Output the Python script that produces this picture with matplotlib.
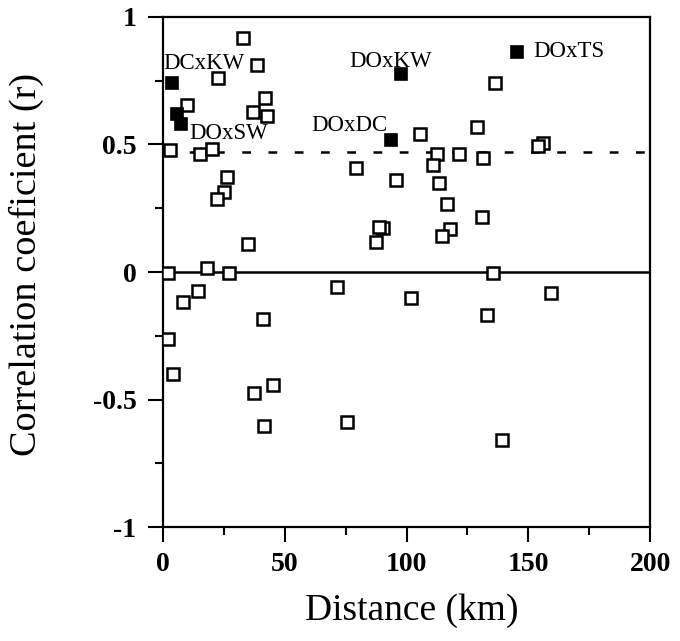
import matplotlib
matplotlib.use("Agg")
import matplotlib.pyplot as plt
import numpy as np

# open squares: pairwise distance (km) vs correlation coefficient
dist_open = [33.0, 38.7, 22.7, 9.7, 41.9, 37.1, 42.8, 2.9, 15.2, 20.0,
             26.2, 25.1, 22.0, 35.0, 79.3, 95.7, 90.5, 88.5, 87.5,
             2.2, 18.2, 27.2, 14.5, 8.1, 41.2, 2.2, 4.0, 45.3, 37.4,
             41.5, 75.7, 71.3,
             136.3, 128.8, 105.5, 156.2, 154.0, 112.4, 121.7, 131.5,
             111.0, 113.5, 116.5, 130.9, 117.9, 114.4, 135.3,
             101.7, 159.2, 132.9, 139.1]
r_open = [0.916, 0.812, 0.76, 0.655, 0.684, 0.629, 0.612, 0.478, 0.463, 0.481,
          0.374, 0.315, 0.285, 0.11, 0.407, 0.361, 0.171, 0.175, 0.119,
          -0.005, 0.014, -0.005, -0.075, -0.119, -0.184, -0.264, -0.401, -0.443, -0.473,
          -0.604, -0.587, -0.057,
          0.74, 0.567, 0.54, 0.507, 0.494, 0.463, 0.463, 0.446,
          0.42, 0.35, 0.267, 0.217, 0.167, 0.141, -0.005,
          -0.1, -0.084, -0.169, -0.659]

# filled squares: highlighted pairs
dist_filled = [3.6, 5.8, 7.3, 93.5, 97.6, 145.2]
r_filled = [0.74, 0.62, 0.58, 0.518, 0.776, 0.864]

pair_labels = ["DCxKW", "DOxSW", "DOxDC", "DOxKW", "DOxTS"]
label_x = [0.0, 11.0, 61.0, 76.4, 152.0]
label_y = [0.816, 0.545, 0.576, 0.827, 0.863]

r_critical = 0.469

serif = ["Liberation Serif", "DejaVu Serif"]

fig = plt.figure(figsize=(6.8, 6.41), dpi=100)
ax = fig.add_axes([0.2397, 0.1778, 0.7163, 0.7957])

ax.axhline(0, color="black", lw=1.8, zorder=1)
ax.axhline(r_critical, color="black", lw=1.8, ls=(0, (3.5, 7)), zorder=1)

ax.plot(dist_open, r_open, ls="none", marker="s", ms=8, mfc="white",
        mec="black", mew=1.8, zorder=3)
ax.plot(dist_filled, r_filled, ls="none", marker="s", ms=8.5, mfc="black",
        mec="black", mew=1.2, zorder=4)

for lab, lx, ly in zip(pair_labels, label_x, label_y):
    ax.text(lx, ly, lab, family=serif, fontsize=16.5, va="center", ha="left",
            zorder=5)

ax.set_xlim(0, 200)
ax.set_ylim(-1, 1)
ax.set_xticks([0, 50, 100, 150, 200])
ax.set_xticks([25, 75, 125, 175], minor=True)
ax.set_yticks([-1, -0.5, 0, 0.5, 1])
ax.set_yticks([-0.75, -0.25, 0.25, 0.75], minor=True)
ax.set_yticklabels(["-1", "-0.5", "0", "0.5", "1"])
ax.set_xticklabels(["0", "50", "100", "150", "200"])

ax.tick_params(axis="both", which="major", direction="out", length=11, width=1.5)
ax.tick_params(axis="both", which="minor", direction="out", length=6, width=1.5)
ax.tick_params(axis="y", which="major", pad=8)
ax.tick_params(axis="x", which="major", pad=7)
for lab in ax.get_xticklabels() + ax.get_yticklabels():
    lab.set_family(serif)
    lab.set_fontsize(20)
    lab.set_fontweight("bold")

for sp in ax.spines.values():
    sp.set_linewidth(1.6)

ax.set_xlabel("Distance (km)", family=serif, fontsize=27)
ax.set_ylabel("Correlation coeficient (r)", family=serif, fontsize=27.5)
ax.xaxis.set_label_coords(0.51, -0.13)
ax.yaxis.set_label_coords(-0.245, 0.515)

fig.savefig("out.png", dpi=100)
